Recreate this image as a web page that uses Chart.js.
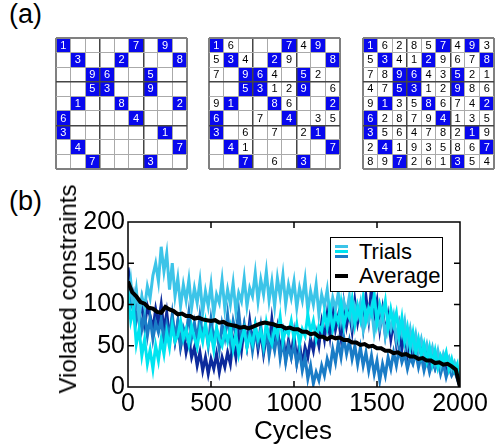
<!DOCTYPE html>
<html>
<head>
<meta charset="utf-8">
<script src="https://cdn.jsdelivr.net/npm/chart.js@4"></script>
<style>
  body { margin: 0; background: #fff; }
  #page { position: relative; width: 500px; height: 445px; overflow: hidden; font-family: "Liberation Sans", Arial, sans-serif; color: #000; }
  .panel { position: absolute; font-size: 27px; line-height: 1; }
  .grid { position: absolute; }
  #mainChart { position: absolute; left: 0; top: 180px; }
  .axisTitle { position: absolute; white-space: nowrap; line-height: 1; }
  #legend { position: absolute; left: 330px; top: 237px; width: 111px; height: 53px; border: 1.5px solid #000; background: #fff; }
  #legend .bar { position: absolute; left: 4px; width: 13px; height: 3px; }
  #legend .txt { position: absolute; left: 28px; font-size: 22px; line-height: 1; }
</style>
</head>
<body>
<div id="page">
  <div class="panel" style="left:9px; top:1px;">(a)</div>
  <div class="panel" style="left:9px; top:188px;">(b)</div>

  <canvas id="grid1" class="grid" width="133" height="133" style="left:55px; top:37px;"></canvas>
  <canvas id="grid2" class="grid" width="133" height="133" style="left:208px; top:37px;"></canvas>
  <canvas id="grid3" class="grid" width="133" height="133" style="left:362px; top:37px;"></canvas>

  <canvas id="mainChart" width="500" height="265"></canvas>

  <div class="axisTitle" style="left:68px; top:289px; font-size:24px; transform: translate(-50%, -50%) rotate(-90deg);">Violated constraints</div>
  <div class="axisTitle" style="left:293px; top:430px; font-size:26px; transform: translate(-50%, -50%);">Cycles</div>

  <div id="legend">
    <div class="bar" style="top:7px; background:#3cc4e8;"></div>
    <div class="bar" style="top:12px; background:#00e4f0;"></div>
    <div class="bar" style="top:17px; background:#1a7cc6;"></div>
    <div class="txt" style="top:3px;">Trials</div>
    <div class="bar" style="top:36px; background:#000; height:3.5px;"></div>
    <div class="txt" style="top:27px;">Average</div>
  </div>
</div>

<script>
// ---- sudoku grids (0 = empty cell) ----
const puzzleGrid = [
  "100007090",
  "030020008",
  "009600500",
  "005300900",
  "010080002",
  "600004000",
  "300000010",
  "040000007",
  "007000300"
];
const partialGrid = [
  "160007490",
  "534029008",
  "709640520",
  "005312906",
  "910086002",
  "600704035",
  "306070210",
  "041000007",
  "007060300"
];
const solvedGrid = [
  "162857493",
  "534129678",
  "789643521",
  "475312986",
  "913586742",
  "628794135",
  "356478219",
  "241935867",
  "897261354"
];

// ---- violated constraints vs cycles (samples evenly spread over 0..2000 cycles) ----
const maxCycles = 2000;
const trialCyan = [
  115, 80, 95, 52, 70, 38, 58, 28, 45, 22, 50, 32,
  58, 40, 66, 48, 75, 55, 62, 80, 58, 70, 52, 74,
  60, 48, 70, 55, 78, 52, 66, 45, 72, 58, 50, 68,
  55, 72, 46, 64, 40, 58, 70, 48, 62, 52, 75, 58,
  68, 50, 78, 60, 52, 72, 62, 85, 55, 70, 64, 80,
  58, 76, 52, 70, 62, 88, 66, 80, 58, 74, 68, 90,
  72, 95, 70, 88, 78, 102, 74, 92, 84, 106, 76, 98,
  82, 108, 80, 96, 88, 112, 78, 100, 86, 104, 72, 94,
  76, 90, 62, 84, 55, 72, 48, 66, 42, 58, 38, 52,
  32, 48, 28, 44, 24, 38, 30, 42, 22, 34, 20, 28,
  0
];
const trialSky = [
  100, 128, 92, 118, 84, 110, 96, 122, 108, 135, 150, 128,
  170, 140, 162, 118, 150, 110, 132, 98, 124, 105, 130, 96,
  120, 102, 128, 90, 116, 98, 124, 88, 112, 102, 130, 95,
  118, 100, 126, 92, 114, 104, 132, 98, 120, 110, 138, 104,
  130, 112, 140, 105, 128, 98, 132, 110, 136, 100, 124, 108,
  128, 96, 120, 105, 130, 92, 116, 100, 124, 88, 112, 98,
  118, 86, 108, 94, 114, 82, 104, 90, 110, 78, 98, 86,
  102, 70, 92, 80, 96, 66, 86, 72, 90, 62, 82, 70,
  86, 58, 78, 64, 80, 52, 70, 48, 64, 44, 58, 40,
  52, 36, 48, 30, 44, 26, 40, 30, 36, 22, 30, 18,
  0
];
const trialBlue = [
  125, 98, 112, 80, 96, 70, 88, 62, 84, 58, 78, 66,
  82, 55, 76, 60, 88, 58, 80, 52, 72, 62, 90, 60,
  78, 56, 86, 62, 74, 50, 82, 58, 70, 46, 76, 60,
  88, 55, 80, 64, 92, 58, 76, 50, 70, 44, 66, 52,
  74, 45, 68, 38, 60, 44, 66, 35, 56, 30, 50, 36,
  52, 28, 44, 20, 36, 10, 26, 4, 18, 8, 26, 14,
  34, 22, 46, 30, 54, 36, 60, 40, 56, 34, 50, 28,
  48, 26, 42, 20, 38, 16, 32, 8, 28, 14, 36, 22,
  42, 26, 46, 30, 40, 22, 36, 28, 42, 24, 38, 20,
  34, 18, 30, 22, 34, 16, 28, 12, 24, 14, 20, 10,
  0
];
const trialNavy = [
  145, 120, 98, 112, 82, 104, 74, 98, 86, 70, 94, 76,
  100, 68, 90, 60, 84, 56, 78, 48, 66, 42, 58, 36,
  48, 26, 42, 20, 36, 16, 34, 22, 40, 18, 36, 24,
  42, 28, 56, 36, 64, 44, 72, 50, 80, 54, 74, 46,
  68, 40, 62, 48, 82, 54, 72, 42, 64, 34, 56, 38,
  64, 30, 52, 26, 48, 36, 58, 44, 66, 50, 78, 58,
  88, 62, 96, 70, 86, 60, 100, 74, 92, 68, 104, 78,
  96, 72, 110, 82, 120, 86, 104, 70, 94, 64, 86, 58,
  80, 52, 74, 46, 68, 40, 62, 36, 56, 42, 52, 34,
  46, 28, 40, 24, 36, 20, 32, 18, 28, 16, 22, 12,
  0
];
const averageValues = [
  128, 115, 110, 103, 101, 96, 95, 91, 90, 97, 94, 92, 88, 89, 86, 86, 83, 84, 82, 81,
  80, 81, 78, 79, 76, 75, 74, 72, 73, 71, 73, 75, 77, 78, 77, 76, 74, 74, 71, 72,
  70, 70, 67, 67, 64, 65, 61, 61, 58, 61, 59, 60, 57, 57, 54, 54, 51, 52, 49, 50,
  47, 47, 44, 44, 41, 42, 39, 40, 37, 37, 34, 35, 32, 32, 29, 30, 27, 28, 25, 21, 0
];
const yTicks = [0, 50, 100, 150, 200];
const xTicks = [0, 500, 1000, 1500, 2000];

const FONT = "'Liberation Sans', Arial, sans-serif";

// spread samples evenly over the cycle range
function toPoints(values) {
  return values.map((v, i) => ({ x: (i * maxCycles) / (values.length - 1), y: v }));
}

// draws the sudoku cells (blue givens + digits) through the chart scales
const sudokuCells = {
  id: "sudokuCells",
  beforeDraw(chart, args, opts) {
    const { ctx, scales } = chart;
    const sx = scales.x, sy = scales.y;
    ctx.save();
    for (let r = 0; r < 9; r++) {
      for (let c = 0; c < 9; c++) {
        const x0 = sx.getPixelForValue(c), x1 = sx.getPixelForValue(c + 1);
        const y0 = sy.getPixelForValue(r), y1 = sy.getPixelForValue(r + 1);
        const given = puzzleGrid[r][c] !== "0";
        const digit = opts.grid[r][c];
        if (given) {
          ctx.fillStyle = "#0808ee";
          ctx.fillRect(x0, y0, x1 - x0, y1 - y0);
        }
        if (digit !== "0") {
          ctx.fillStyle = given ? "#fff" : "#000";
          ctx.font = "11px " + FONT;
          ctx.textAlign = "center";
          ctx.textBaseline = "middle";
          ctx.fillText(digit, (x0 + x1) / 2, (y0 + y1) / 2 + 0.5);
        }
      }
    }
    ctx.restore();
  }
};

function gridScale(reverse) {
  return {
    type: "linear",
    min: 0,
    max: 9,
    reverse: reverse,
    ticks: { display: false, stepSize: 1 },
    border: { display: false },
    grid: {
      drawTicks: false,
      color: (c) => (c.tick.value === 0 || c.tick.value === 9 ? "#808080" : c.tick.value % 3 === 0 ? "#454545" : "#aaaaaa"),
      lineWidth: (c) => (c.tick.value === 0 || c.tick.value === 9 ? 2 : c.tick.value % 3 === 0 ? 1.5 : 1)
    }
  };
}

function makeGrid(id, grid) {
  new Chart(document.getElementById(id), {
    type: "scatter",
    data: { datasets: [{ data: [] }] },
    options: {
      responsive: false,
      animation: false,
      layout: { padding: 1 },
      plugins: { legend: { display: false }, tooltip: { enabled: false }, sudokuCells: { grid: grid } },
      scales: { x: gridScale(false), y: gridScale(true) }
    },
    plugins: [sudokuCells]
  });
}

makeGrid("grid1", puzzleGrid);
makeGrid("grid2", partialGrid);
makeGrid("grid3", solvedGrid);

// frame + inward tick marks on all four sides
const frameTicks = {
  id: "frameTicks",
  afterDraw(chart) {
    const { ctx, chartArea: a, scales } = chart;
    ctx.save();
    ctx.strokeStyle = "#000";
    ctx.lineWidth = 1.5;
    ctx.strokeRect(a.left, a.top, a.right - a.left, a.bottom - a.top);
    const len = 6;
    ctx.beginPath();
    xTicks.slice(1, -1).forEach((v) => {
      const px = scales.x.getPixelForValue(v);
      ctx.moveTo(px, a.bottom); ctx.lineTo(px, a.bottom - len);
      ctx.moveTo(px, a.top); ctx.lineTo(px, a.top + len);
    });
    yTicks.slice(1, -1).forEach((v) => {
      const py = scales.y.getPixelForValue(v);
      ctx.moveTo(a.left, py); ctx.lineTo(a.left + len, py);
      ctx.moveTo(a.right, py); ctx.lineTo(a.right - len, py);
    });
    ctx.stroke();
    ctx.restore();
  }
};

function trialSet(values, color) {
  return {
    data: toPoints(values),
    borderColor: color,
    backgroundColor: color,
    borderWidth: 3,
    pointRadius: 0,
    tension: 0
  };
}

new Chart(document.getElementById("mainChart"), {
  type: "line",
  data: {
    datasets: [
      { data: toPoints(averageValues), borderColor: "#000", backgroundColor: "#000", borderWidth: 4, pointRadius: 0, tension: 0 },
      trialSet(trialCyan, "#00e4f0"),
      trialSet(trialSky, "#3cc4e8"),
      trialSet(trialBlue, "#1a7cc6"),
      trialSet(trialNavy, "#0c2a9c")
    ]
  },
  options: {
    responsive: false,
    animation: false,
    layout: { padding: { left: 0, top: 42, right: 40, bottom: 0 } },
    plugins: { legend: { display: false }, tooltip: { enabled: false } },
    scales: {
      x: {
        type: "linear",
        min: 0,
        max: maxCycles,
        afterFit: (s) => { s.height = 58; },
        afterBuildTicks: (s) => { s.ticks = xTicks.map((v) => ({ value: v })); },
        grid: { display: false, drawTicks: false },
        border: { display: false },
        ticks: { color: "#000", padding: 2, maxRotation: 0, callback: (v) => String(v), font: { family: FONT, size: 25 } }
      },
      y: {
        min: 0,
        max: 200,
        afterFit: (s) => { s.width = 128; },
        afterBuildTicks: (s) => { s.ticks = yTicks.map((v) => ({ value: v })); },
        grid: { display: false, drawTicks: false },
        border: { display: false },
        ticks: { color: "#000", padding: 3, callback: (v) => String(v), font: { family: FONT, size: 25 } }
      }
    }
  },
  plugins: [frameTicks]
});
</script>
</body>
</html>
